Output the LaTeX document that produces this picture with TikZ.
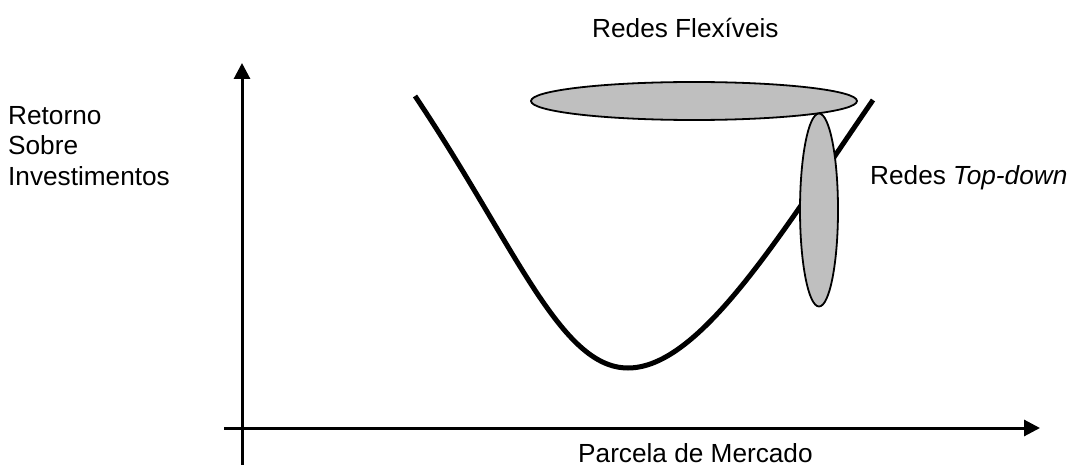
\documentclass[tikz,border=0pt]{standalone}
\usepackage{fontspec}
\setmainfont{Liberation Sans}
\usetikzlibrary{arrows.meta,shapes.geometric}
\begin{document}
\begin{tikzpicture}[x=1pt,y=-1pt,
  axis/.style={line width=3pt,-{Triangle[length=16pt,width=16pt]}},
  curvestyle/.style={line width=5pt},
  blob/.style={ellipse,draw=black,line width=1.8pt,fill=black!25,inner sep=0pt},
  lbl/.style={anchor=base west,inner sep=0pt,font=\fontsize{26.2}{30.5}\selectfont}]
\useasboundingbox (0,0) rectangle (1075,465);
% axes
\coordinate (yb) at (242,465);
\coordinate (yt) at (242,63);
\coordinate (xl) at (224,428);
\coordinate (xr) at (1040,428);
\draw[axis] (yb) -- (yt);
\draw[axis] (xl) -- (xr);
% curve
\coordinate (c0) at (415,96);
\coordinate (cm) at (628,368);
\coordinate (c1) at (873,100);
\draw[curvestyle] (c0) .. controls (515,245) and (560,368) .. (cm)
  .. controls (700,368) and (780,235) .. (c1);
% ellipses
\node[blob,minimum width=326pt,minimum height=38pt] (flex) at (694,101) {};
\node[blob,minimum width=38pt,minimum height=193pt] (top) at (819,210) {};
% labels
\node[lbl] (lflex) at (592,38) {Redes Flexíveis};
\node[lbl] (ltop) at (870,185) {Redes \textit{Top-down}};
\node[lbl,align=left,anchor=north west] (lret) at (8,106) {Retorno\\Sobre\\Investimentos};
\node[lbl] (lpar) at (578,462) {Parcela de Mercado};
\end{tikzpicture}
\end{document}
